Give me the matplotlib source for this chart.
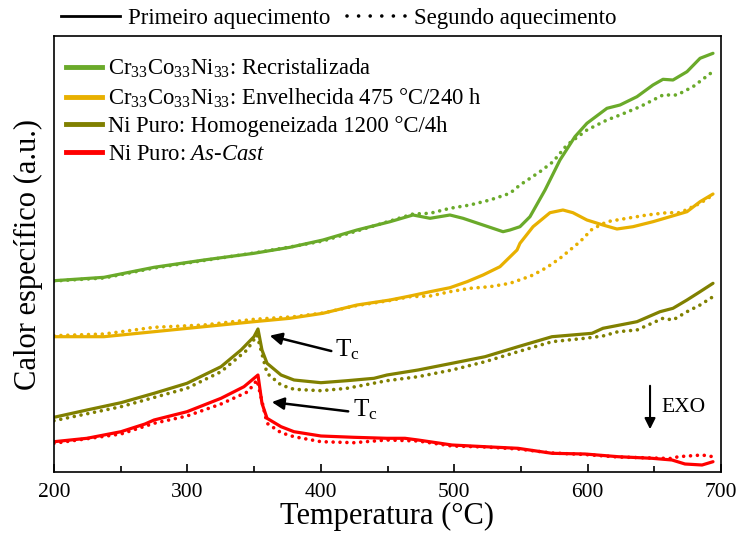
import matplotlib
matplotlib.use("Agg")
import matplotlib.pyplot as plt
from matplotlib.lines import Line2D
from matplotlib.ticker import MultipleLocator

plt.rcParams['font.family'] = ['Liberation Serif', 'DejaVu Serif']
plt.rcParams['mathtext.fontset'] = 'custom'
plt.rcParams['mathtext.rm'] = 'Liberation Serif'
plt.rcParams['mathtext.it'] = 'Liberation Serif:italic'

# ---------------- data (temperature in °C, specific heat in a.u.) ----------------
green_T1 = [200, 237.5, 275, 312.4, 349.9, 376.9, 401.6, 427.1, 451.9, 469.1, 481.9, 496.8,
            506.6, 521.6, 536.6, 541.8, 549.3, 556.8, 568.1, 579.3, 590.5, 599.5, 614.5,
            624.3, 637.0, 649.0, 656.5, 664.0, 674.5, 684.3, 694.0]
green_Y1 = [191.3, 194.7, 204.7, 212, 218.7, 224.7, 232, 242, 250.3, 257, 253.7, 257,
            253.7, 247, 240.3, 242, 245.3, 255.3, 282, 312, 335.3, 348.7, 363.7,
            367, 375.3, 387, 392.7, 392, 400.3, 413.7, 418.7]
green_T2 = [200, 237.5, 275, 312.4, 349.9, 376.9, 401.6, 427.1, 451.9, 469.1, 481.9, 496.8,
            511.8, 526.8, 541.8, 549.3, 564.3, 574.1, 584.5, 599.5, 614.5, 624.3, 639.3,
            656.5, 667.0, 679.0, 693.2]
green_Y2 = [191, 194, 204, 211.5, 219, 225, 231, 241, 251, 258, 258.7, 263.7,
            267, 272, 278.7, 287, 300.3, 310.3, 327, 342, 352, 357, 365.3,
            377, 377, 385.3, 399.7]

yellow_T1 = [200, 237.5, 275, 312.4, 349.9, 376.9, 401.6, 427.1, 451.9, 466.9, 481.9, 496.8,
             509.6, 521.6, 534.3, 547.1, 549.3, 559.1, 571.8, 581.5, 589.0, 599.5, 611.5,
             622.0, 634.0, 649.0, 661.8, 674.5, 684.3, 694.0]
yellow_Y1 = [135.3, 135.3, 140.3, 145.3, 150.3, 153.7, 158.7, 167, 172, 176, 180.3, 184.3,
             190.3, 197, 205.3, 222, 228.7, 245.3, 259.3, 262, 259.3, 252, 247,
             243, 245.3, 250.3, 255.3, 260.3, 270.3, 278]
yellow_T2 = [200, 237.5, 275, 312.4, 349.9, 379.9, 401.6, 427.1, 451.9, 466.9, 481.9, 496.8,
             511.8, 526.8, 541.8, 554.6, 559.1, 569.6, 579.3, 586.8, 594.3, 603.3, 614.5,
             629.5, 644.5, 659.5, 669.3, 684.3, 694.0]
yellow_Y2 = [136.3, 138, 144.7, 147, 152.7, 155.3, 159, 166.5, 171.5, 175.3, 176, 180.3,
             183.7, 185.3, 188.7, 194.7, 197, 204.7, 213.7, 222, 230.3, 242.7, 250.3,
             253.7, 257, 259.3, 259.3, 268.7, 277]

olive_T1 = [200, 224.7, 250.2, 275, 299.7, 325.2, 340.2, 349.9, 352.9, 355.9, 359.7, 370.2,
            379.9, 400.1, 419.6, 439.9, 449.6, 472.9, 498.3, 523.1, 547.8, 573.3, 588.3,
            603.3, 611.5, 637.0, 654.3, 664.0, 674.5, 684.3, 694.0]
olive_Y1 = [54.7, 62, 69.3, 78.7, 88.7, 105.3, 122, 135.3, 143, 122, 108.7, 97,
            92, 89.3, 91.3, 93.7, 97, 102, 108.7, 115.3, 125.3, 135.3, 137,
            138.7, 143.7, 150.3, 160.3, 163.7, 172, 180.3, 188.7]
olive_T2 = [200, 250.2, 299.7, 325.2, 344.7, 352.2, 359.7, 370.2, 379.9, 400.1, 419.6, 449.6,
            472.9, 498.3, 523.1, 547.8, 573.3, 598.0, 611.5, 622.8, 637.0, 656.5, 664.0,
            674.5, 684.3, 694.0]
olive_Y2 = [51.3, 65.3, 83.7, 100.3, 122, 137, 98.7, 87, 82.7, 81.3, 83.7, 91.3,
            95.3, 102, 110.3, 120.3, 130.3, 133.7, 136, 140.3, 142, 153.7, 152,
            160.3, 167, 175.3]

red_T1 = [200, 224.7, 250.2, 268.2, 275, 299.7, 325.2, 342.4, 352.9, 355.9, 359.7, 370.2,
          379.9, 400.1, 424.8, 449.6, 463.1, 472.9, 498.3, 523.1, 547.8, 573.3, 598.0,
          622.8, 648.3, 663.3, 673.0, 685.8, 694.0]
red_Y1 = [30.3, 33.7, 40.3, 48, 52, 60.3, 73.7, 85.3, 97, 68.7, 53.7, 45.3,
          40.3, 36, 34.7, 33.7, 33.7, 32, 27, 25.3, 23.7, 18.7, 18,
          15.3, 13.7, 12, 8, 7, 10.3]
red_T2 = [200, 250.2, 275, 299.7, 325.2, 345.4, 352.2, 359.7, 370.2, 379.9, 400.1, 424.8,
          449.6, 472.9, 498.3, 523.1, 547.8, 573.3, 598.0, 622.8, 648.3, 663.3, 667.8,
          685.8, 694.0]
red_Y2 = [28.7, 38, 48.7, 56, 68, 80.3, 92, 48.7, 39.3, 35.3, 30.3, 29.3,
          32, 31, 26, 25, 23, 19, 17.5, 15, 14, 13.5, 15.3, 17, 15.3]

labels = ['Cr$_{33}$Co$_{33}$Ni$_{33}$: Recristalizada',
          'Cr$_{33}$Co$_{33}$Ni$_{33}$: Envelhecida 475 °C/240 h',
          'Ni Puro: Homogeneizada 1200 °C/4h',
          'Ni Puro: $\\mathit{As}$-$\\mathit{Cast}$']
colors = ['#6AAA2A', '#E8B000', '#808000', '#FF0000']
heating_labels = ['Primeiro aquecimento', 'Segundo aquecimento']

series = [(green_T1, green_Y1, green_T2, green_Y2),
          (yellow_T1, yellow_Y1, yellow_T2, yellow_Y2),
          (olive_T1, olive_Y1, olive_T2, olive_Y2),
          (red_T1, red_Y1, red_T2, red_Y2)]

# ---------------- figure ----------------
fig = plt.figure(figsize=(7.39, 5.39), dpi=100)
ax = fig.add_axes([54/739, 1-472/539, (721-54)/739, (472-36)/539])

handles = []
for (t1, y1, t2, y2), c, lab in zip(series, colors, labels):
    ax.plot(t1, y1, color=c, lw=2.3, solid_joinstyle='round', solid_capstyle='round')
    ax.plot(t2, y2, color=c, lw=2.6, linestyle=(0, (0.01, 1.9)), dash_capstyle='round')
    handles.append(Line2D([], [], color=c, lw=3.5))

ax.set_xlim(200, 700)
ax.set_ylim(0, 436)
ax.set_yticks([])
ax.xaxis.set_major_locator(MultipleLocator(100))
ax.xaxis.set_minor_locator(MultipleLocator(50))
ax.tick_params(axis='x', which='both', direction='in', labelsize=15.5, pad=8)
ax.tick_params(axis='x', which='major', length=6, width=1.2)
ax.tick_params(axis='x', which='minor', length=4, width=1.2)
for s in ax.spines.values():
    s.set_linewidth(1.2)

ax.set_xlabel('Temperatura (°C)', fontsize=22, labelpad=0)
ax.set_ylabel('Calor específico (a.u.)', fontsize=22, labelpad=8)

leg1 = ax.legend(handles, labels, loc='upper left', bbox_to_anchor=(-0.0075, 0.991),
                 frameon=False, fontsize=16.3, handlelength=1.6, handletextpad=0.25,
                 labelspacing=0.28, borderaxespad=0.35)
ax.add_artist(leg1)

hh = [Line2D([], [], color='black', lw=2),
      Line2D([], [], color='black', lw=2.6, linestyle=(0, (0.01, 3.2)), dash_capstyle='round')]
ax.legend(hh, heating_labels, loc='center left', bbox_to_anchor=(0.01, 1.041), ncol=2,
          frameon=False, fontsize=16.5, handlelength=2.6, handletextpad=0.35,
          columnspacing=0.7, borderaxespad=0, borderpad=0)

# annotations
ax.annotate('', xy=(359.7, 137), xytext=(409.9, 120.3),
            arrowprops=dict(arrowstyle='-|>', color='black', lw=1.8, mutation_scale=18))
ax.text(411, 122, 'T$_\\mathrm{c}$', fontsize=18, ha='left', va='center')
ax.annotate('', xy=(361.2, 70.3), xytext=(422.6, 60.3),
            arrowprops=dict(arrowstyle='-|>', color='black', lw=1.8, mutation_scale=18))
ax.text(424, 62, 'T$_\\mathrm{c}$', fontsize=18, ha='left', va='center')
ax.annotate('', xy=(646.8, 40), xytext=(646.8, 89),
            arrowprops=dict(arrowstyle='-|>', color='black', lw=1.5, mutation_scale=16))
ax.text(655, 65, 'EXO', fontsize=15.5, ha='left', va='center')

fig.savefig('out.png', dpi=100)
